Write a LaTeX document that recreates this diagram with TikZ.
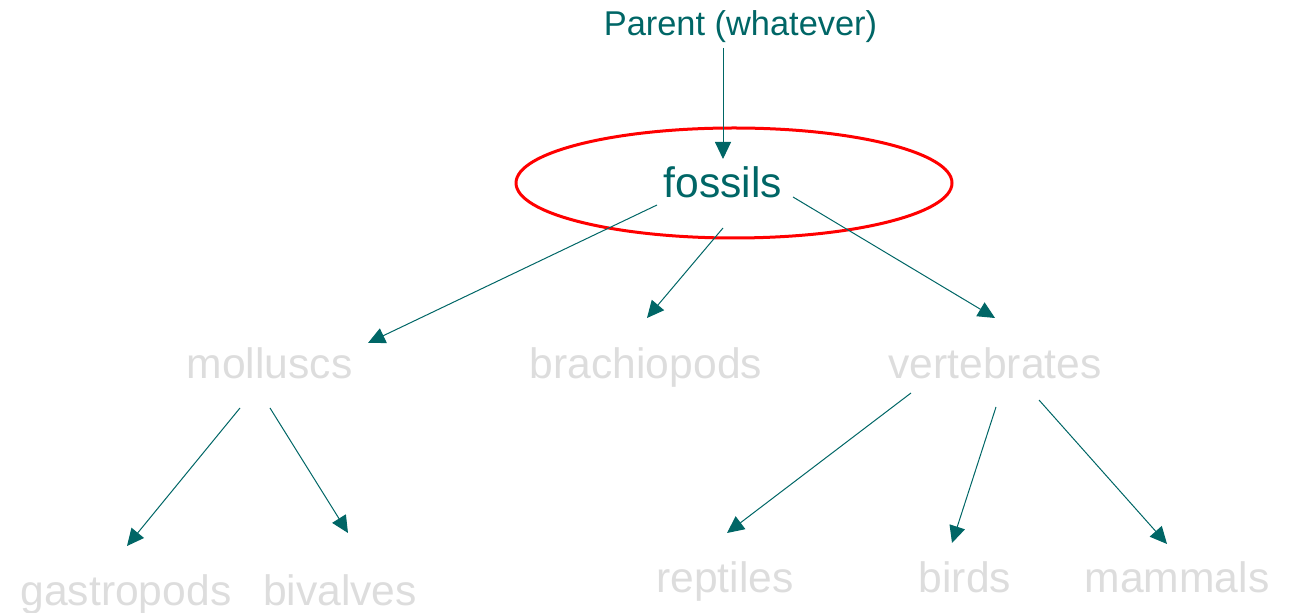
\documentclass[tikz,border=0pt]{standalone}
\usepackage{fontspec}
\setmainfont{Liberation Sans}
\usetikzlibrary{arrows.meta,shapes.geometric}
\definecolor{tealc}{HTML}{006666}
\definecolor{greyc}{HTML}{DDDDDD}
\tikzset{
  lbl/.style={anchor=base, inner sep=0pt, font=\fontsize{21.3pt}{24pt}\selectfont, text=greyc},
  toplbl/.style={anchor=base, inner sep=0pt, font=\fontsize{21.3pt}{24pt}\selectfont, text=tealc},
  parentlbl/.style={anchor=base, inner sep=0pt, font=\fontsize{17.2pt}{20pt}\selectfont, text=tealc},
  link/.style={draw=tealc, line width=0.5pt, -{Triangle[length=8.5pt,width=8pt]}},
  hilite/.style={draw=red, line width=1.5pt, ellipse, minimum width=218pt, minimum height=55pt, inner sep=0pt}
}
\begin{document}
\begin{tikzpicture}[x=0.5pt,y=-0.5pt]
\useasboundingbox (0,0) rectangle (1289,613);
% texts
\node[parentlbl] (parent) at (740.5,36) {Parent (whatever)};
\node[hilite] (ring) at (734,183) {};
\node[toplbl] (fossils) at (723,198) {fossils};
\node[lbl] (molluscs) at (269.5,379) {molluscs};
\node[lbl] (brachiopods) at (646,379) {brachiopods};
\node[lbl] (vertebrates) at (995,379) {vertebrates};
\node[lbl] (gastropods) at (126,605) {gastropods};
\node[lbl] (bivalves) at (340,605) {bivalves};
\node[lbl] (reptiles) at (725,593) {reptiles};
\node[lbl] (birds) at (965,593) {birds};
\node[lbl] (mammals) at (1177,593) {mammals};
% connector ends
\coordinate (p0) at (723,48);   \coordinate (p1) at (723,159);
\coordinate (fa0) at (657,205); \coordinate (fa1) at (368,343);
\coordinate (fb0) at (723,228); \coordinate (fb1) at (647,318);
\coordinate (fc0) at (793,197); \coordinate (fc1) at (995,318);
\coordinate (ma0) at (240,408); \coordinate (ma1) at (127,546);
\coordinate (mb0) at (270,408); \coordinate (mb1) at (348,533);
\coordinate (va0) at (911,393); \coordinate (va1) at (727,533);
\coordinate (vb0) at (996,407); \coordinate (vb1) at (952,543);
\coordinate (vc0) at (1039,400); \coordinate (vc1) at (1167,544);
% connectors
\draw[link] (p0) -- (p1);
\draw[link] (fa0) -- (fa1);
\draw[link] (fb0) -- (fb1);
\draw[link] (fc0) -- (fc1);
\draw[link] (ma0) -- (ma1);
\draw[link] (mb0) -- (mb1);
\draw[link] (va0) -- (va1);
\draw[link] (vb0) -- (vb1);
\draw[link] (vc0) -- (vc1);
\end{tikzpicture}
\end{document}
